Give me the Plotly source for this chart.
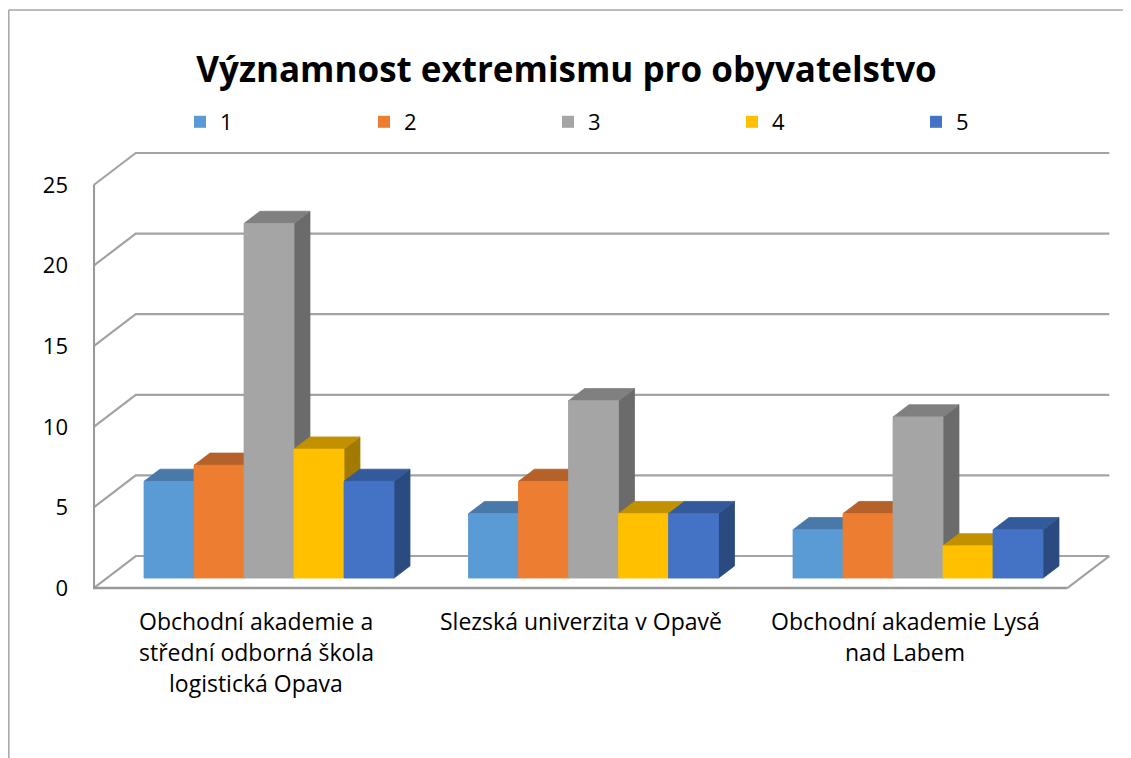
import plotly.graph_objects as go

# ---------------- data ----------------
categories = [
    "Obchodní akademie a<br>střední odborná škola<br>logistická Opava",
    "Slezská univerzita v Opavě",
    "Obchodní akademie Lysá<br>nad Labem",
]
series_names = ["1", "2", "3", "4", "5"]
s1 = [6, 4, 3]
s2 = [7, 6, 4]
s3 = [22, 11, 10]
s4 = [8, 4, 2]
s5 = [6, 4, 3]
series_values = [s1, s2, s3, s4, s5]
y_ticks = [0, 5, 10, 15, 20, 25]
chart_title = "Významnost extremismu pro obyvatelstvo"

# ---------------- style ----------------
front_colors = ["#5B9BD5", "#ED7D31", "#A5A5A5", "#FFC000", "#4472C4"]
top_colors = ["#4979A8", "#B5612A", "#808080", "#C29100", "#335B9B"]
side_colors = ["#3F6C98", "#A3561F", "#6B6B6B", "#A37A00", "#2A4A80"]
grid_color = "#A3A3A3"
FONT = "Open Sans"

OFF = 8                       # page body margin
PAGE_W, PAGE_H = 1131, 758
W, H = PAGE_W - OFF, PAGE_H - OFF
ML_PAGE = 93                  # page column of the front vertical axis
ML = ML_PAGE - OFF
PX_CAT = 324.5                # pixels per category step
PX_VAL = 16.12                # pixels per value unit
Y0_PAGE = 588                 # page row of value 0 on the front plane
CAT0_PAGE = 256               # page column of first category centre (front plane)

DX = 42 / PX_CAT              # depth offset (x units) for full depth
DY = 32 / PX_VAL              # depth offset (value units) for full depth
F0 = 0.31                     # bar front depth fraction
T = 0.38                      # bar thickness depth fraction
BW = 50 / PX_CAT              # bar width (x units)
X_LO, X_HI = -0.5, len(categories) - 0.5
V_MAX = y_ticks[-1]


def proj(x, v, d):
    return x + d * DX, v + d * DY


def v_of_page(py):
    return (Y0_PAGE - py) / PX_VAL


def px_x(page_x):
    return (page_x - OFF - ML) / (W - ML)


def px_y(page_y):
    return 1 - (page_y - OFF) / H


fig = go.Figure()

# real bar traces (front faces) - also provide legend entries
n = len(series_names)
for j, (name, vals) in enumerate(zip(series_names, series_values)):
    xs = [i + (j - (n - 1) / 2) * BW + F0 * DX for i in range(len(categories))]
    fig.add_trace(go.Bar(
        x=xs, y=vals, base=[F0 * DY] * len(vals), width=BW,
        name=name, marker=dict(color=front_colors[j], line=dict(width=0)),
        hoverinfo="skip", showlegend=True,
    ))


def line_trace(pts, color=grid_color, width=2.2):
    xs, ys = [], []
    for seg in pts:
        for p in seg:
            xs.append(p[0]); ys.append(p[1])
        xs.append(None); ys.append(None)
    return go.Scatter(x=xs, y=ys, mode="lines", line=dict(color=color, width=width),
                      hoverinfo="skip", showlegend=False)


# walls / grid
segs = []
for t in y_ticks:
    if t == 0:
        continue
    segs.append([proj(X_LO, t, 0), proj(X_LO, t, 1), proj(X_HI, t, 1)])
segs.append([proj(X_LO, 0, 0), proj(X_LO, 0, 1), proj(X_HI, 0, 1), proj(X_HI, 0, 0)])
fig.add_trace(line_trace(segs))
fig.add_trace(line_trace([[proj(X_LO, V_MAX, 0), proj(X_LO, 0, 0), proj(X_HI, 0, 0)]],
                         color="#999999", width=2.6))


def poly(pts, color):
    xs = [p[0] for p in pts] + [pts[0][0]]
    ys = [p[1] for p in pts] + [pts[0][1]]
    return go.Scatter(x=xs, y=ys, mode="lines", fill="toself", fillcolor=color,
                      line=dict(color=color, width=0.8), hoverinfo="skip",
                      showlegend=False)


# 3-D faces, painted left to right
for i in range(len(categories)):
    for j in range(n):
        v = series_values[j][i]
        xl = i + (j - n / 2) * BW
        xr = xl + BW
        d0, d1 = F0, F0 + T
        side = [proj(xr, 0, d0), proj(xr, 0, d1), proj(xr, v, d1), proj(xr, v, d0)]
        top = [proj(xl, v, d0), proj(xr, v, d0), proj(xr, v, d1), proj(xl, v, d1)]
        front = [proj(xl, 0, d0), proj(xr, 0, d0), proj(xr, v, d0), proj(xl, v, d0)]
        fig.add_trace(poly(side, side_colors[j]))
        fig.add_trace(poly(top, top_colors[j]))
        fig.add_trace(poly(front, front_colors[j]))

# category labels (one annotation per line for Excel-like line spacing)
line_page = [621, 652, 683]
for i, lab in enumerate(categories):
    for k, part in enumerate(lab.split("<br>")):
        fig.add_annotation(x=i, y=v_of_page(line_page[k]), xref="x", yref="y",
                           text=part, showarrow=False, xanchor="center", yanchor="middle",
                           font=dict(family=FONT, size=23, color="#000000"))

x_range = [(ML_PAGE - CAT0_PAGE) / PX_CAT, (PAGE_W - CAT0_PAGE) / PX_CAT]
y_range = [v_of_page(PAGE_H), v_of_page(OFF)]

fig.update_layout(
    width=W, height=H,
    margin=dict(l=ML, r=0, t=0, b=0),
    paper_bgcolor="white", plot_bgcolor="white",
    barmode="overlay",
    title=dict(text="<b>" + chart_title + "</b>", x=(566.5 - OFF) / W, xref="container",
               xanchor="center", y=px_y(70), yref="container", yanchor="middle",
               font=dict(family=FONT, size=35, color="#000000")),
    showlegend=True,
    legend=dict(orientation="h", x=px_x(180), y=px_y(122), xanchor="left", yanchor="middle",
                entrywidth=139, entrywidthmode="pixels",
                font=dict(family=FONT, size=22, color="#000000"),
                bgcolor="rgba(0,0,0,0)", traceorder="normal"),
    xaxis=dict(range=x_range, visible=False, fixedrange=True),
    yaxis=dict(range=y_range, tickvals=y_ticks, ticktext=[str(t) for t in y_ticks],
               showgrid=False, zeroline=False, showline=False, ticks="",
               ticklabelstandoff=24, fixedrange=True,
               tickfont=dict(family=FONT, size=22, color="#000000")),
    shapes=[
        dict(type="line", xref="paper", yref="paper", x0=px_x(8.8), y0=px_y(10), x1=1.0, y1=px_y(10),
             line=dict(color="#A6A6A6", width=1.5)),
        dict(type="line", xref="paper", yref="paper", x0=px_x(8.8), y0=px_y(10), x1=px_x(8.8), y1=0,
             line=dict(color="#A6A6A6", width=1.5)),
    ],
)

fig.write_html("out.html")
